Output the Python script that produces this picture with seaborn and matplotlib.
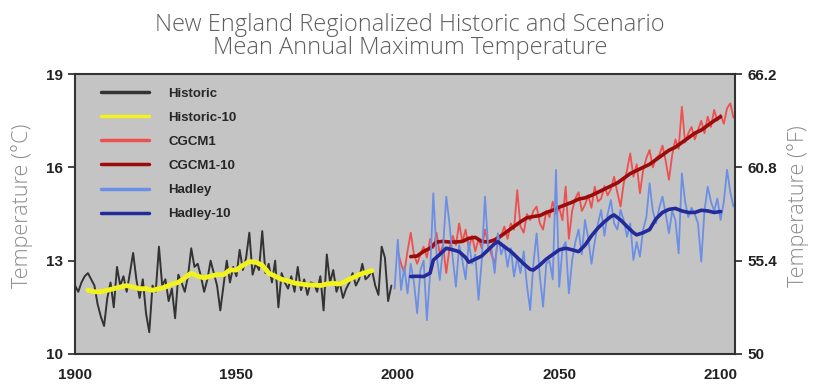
import numpy as np
import pandas as pd
import matplotlib
matplotlib.use("Agg")
import matplotlib.pyplot as plt
import seaborn as sns

# Data (degrees C)
hist_years = list(range(1900, 1999))
hist_temp = [12.2, 12.0, 12.3, 12.5, 12.6, 12.4, 12.2, 11.6, 11.2, 10.9,
             11.8, 12.3, 11.5, 12.8, 12.2, 12.5, 12.0, 12.6, 13.25, 12.4,
             11.8, 12.4, 11.3, 10.7, 12.2, 12.0, 13.45, 12.2, 12.4, 11.7,
             12.1, 11.15, 12.55, 12.3, 12.0, 12.5, 13.4, 12.8, 12.9, 12.5,
             12.0, 12.4, 13.0, 12.6, 12.2, 11.4, 12.2, 13.0, 12.3, 12.8,
             12.5, 13.35, 12.7, 13.1, 13.9, 12.55, 12.9, 12.7, 13.95, 12.6,
             12.9, 12.3, 13.0, 11.5, 12.6, 12.3, 12.1, 12.5, 12.0, 12.8,
             12.05, 12.4, 11.9, 12.3, 12.27, 12.0, 12.5, 11.4, 13.2, 12.3,
             12.7, 12.0, 12.3, 11.8, 12.1, 12.3, 12.6, 12.2, 12.4, 12.9,
             12.4, 12.5, 12.7, 12.2, 11.9, 13.45, 13.1, 11.7, 12.2]

hist10_years = list(range(1904, 1993, 2))
hist10_temp = [12.05, 12.0, 12.0, 12.05, 12.1, 12.15, 12.2, 12.15, 12.1, 12.1,
               12.05, 12.1, 12.15, 12.25, 12.3, 12.45, 12.6, 12.5, 12.45, 12.5,
               12.55, 12.55, 12.7, 12.7, 12.85, 12.97, 12.95, 12.85, 12.6, 12.5,
               12.4, 12.35, 12.28, 12.25, 12.22, 12.22, 12.2, 12.25, 12.27, 12.25,
               12.35, 12.45, 12.55, 12.62, 12.68]

cgcm_years = list(range(2000, 2105))
cgcm_temp = [13.3, 12.9, 12.6, 13.3, 13.9, 13.2, 12.9, 13.2, 13.45, 13.1,
             13.7, 13.4, 13.9, 13.2, 13.5, 12.6, 13.4, 13.8, 13.5, 14.2,
             13.6, 14.0, 13.4, 13.8, 13.3, 13.7, 13.4, 14.0, 13.5, 13.2,
             12.9, 13.6, 13.8, 14.1, 13.7, 14.2, 14.0, 15.27, 14.1, 13.9,
             14.5, 14.3, 14.6, 14.74, 14.2, 14.0, 14.6, 14.4, 14.9, 14.5,
             14.7, 14.3, 15.38, 13.7, 14.6, 15.0, 15.2, 14.6, 14.8, 15.1,
             14.7, 15.38, 14.9, 15.0, 15.4, 15.1, 15.3, 15.7, 15.2, 14.74,
             15.5, 15.9, 16.45, 15.7, 16.1, 15.17, 15.9, 16.3, 16.56, 16.0,
             16.3, 16.4, 16.7, 16.2, 15.6, 16.4, 16.9, 16.6, 17.95, 16.8,
             17.1, 17.3, 16.9, 17.2, 17.5, 17.1, 17.63, 17.3, 17.85, 17.5,
             17.7, 17.4, 17.9, 18.06, 17.6]

cgcm10_years = list(range(2004, 2101, 2))
cgcm10_temp = [13.13, 13.15, 13.3, 13.4, 13.6, 13.62, 13.6, 13.6, 13.62, 13.72,
               13.75, 13.62, 13.6, 13.67, 13.8, 13.95, 14.1, 14.25, 14.38, 14.42,
               14.45, 14.55, 14.62, 14.72, 14.8, 14.88, 14.98, 15.02, 15.1, 15.2,
               15.3, 15.4, 15.5, 15.65, 15.8, 15.9, 16.0, 16.1, 16.25, 16.4,
               16.55, 16.65, 16.8, 16.95, 17.1, 17.2, 17.35, 17.5, 17.63]

hadley_years = list(range(1999, 2105))
hadley_temp = [12.1, 13.67, 12.06, 12.8, 11.95, 12.9, 12.3, 11.31, 12.7, 13.0,
               11.09, 12.6, 15.17, 13.2, 12.38, 13.4, 15.06, 14.2, 13.1, 12.16,
               13.5, 13.0, 12.4, 13.6, 12.9, 13.2, 11.74, 13.0, 15.06, 13.4,
               13.4, 12.6, 13.88, 13.2, 13.5, 12.8, 13.4, 12.49, 13.1, 12.6,
               13.3, 12.2, 11.41, 12.9, 13.88, 12.5, 11.52, 12.9, 13.0, 12.4,
               15.92, 12.16, 13.4, 13.6, 11.95, 13.0, 13.6, 14.0, 13.2, 14.31,
               13.7, 12.9, 13.6, 14.2, 14.63, 13.8, 14.5, 14.95, 14.2, 14.0,
               14.63, 14.3, 13.77, 14.2, 13.02, 13.6, 13.13, 14.0, 14.4, 15.49,
               14.6, 14.2, 14.7, 15.06, 14.5, 13.88, 14.6, 14.3, 13.24, 15.81,
               14.9, 14.4, 14.7, 14.5, 14.2, 12.97, 14.6, 15.38, 14.9, 14.6,
               15.0, 14.31, 14.9, 15.92, 15.2, 14.74]

hadley10_years = [2004, 2006, 2008, 2010, 2011, 2013, 2015, 2017, 2019, 2021,
                  2022, 2024, 2026, 2028, 2030, 2031, 2033, 2035, 2037, 2039,
                  2041, 2042, 2044, 2046, 2048, 2050, 2052, 2054, 2056, 2058,
                  2060, 2062, 2064, 2066, 2067, 2069, 2071, 2073, 2074, 2076,
                  2078, 2080, 2082, 2084, 2086, 2088, 2090, 2092, 2094, 2096,
                  2098, 2100]
hadley10_temp = [12.49, 12.5, 12.49, 12.6, 13.02, 13.2, 13.4, 13.35, 13.29, 13.1,
                 12.95, 13.05, 13.15, 13.35, 13.55, 13.61, 13.45, 13.3, 13.1, 12.9,
                 12.72, 12.7, 12.86, 13.05, 13.2, 13.35, 13.4, 13.35, 13.29, 13.5,
                 13.8, 14.05, 14.25, 14.42, 14.47, 14.31, 14.1, 13.9, 13.83, 13.9,
                 14.0, 14.35, 14.55, 14.65, 14.68, 14.6, 14.55, 14.55, 14.62, 14.6,
                 14.55, 14.58]

c_ticks = [10, 13, 16, 19]
f_ticks = [50, 55.4, 60.8, 66.2]
x_ticks = [1900, 1950, 2000, 2050, 2100]

sns.set_style("white")
plt.rcParams["font.family"] = ["Liberation Sans", "DejaVu Sans"]
thin_font = ["Open Sans", "Lato", "DejaVu Sans"]

fig = plt.figure(figsize=(8.2, 3.92), dpi=100)
ax = fig.add_axes([0.0915, 0.097, 0.805, 0.714])
ax.set_facecolor("#c4c4c4")

series = [
    ("Historic", hist_years, hist_temp, "#333333", 1.4),
    ("Historic-10", hist10_years, hist10_temp, "#f2f21e", 3.5),
    ("CGCM1", cgcm_years, cgcm_temp, "#ee5050", 1.3),
    ("CGCM1-10", cgcm10_years, cgcm10_temp, "#9c0a0a", 2.6),
    ("Hadley", hadley_years, hadley_temp, "#6b8fe6", 1.3),
    ("Hadley-10", hadley10_years, hadley10_temp, "#232a9a", 2.6),
]
for name, yrs, vals, color, lw in series:
    df = pd.DataFrame({"year": yrs, "temp": vals})
    sns.lineplot(data=df, x="year", y="temp", ax=ax, color=color,
                 linewidth=lw, label=name)

ax.set_xlim(1900, 2104.5)
ax.set_ylim(10, 19)
ax.set_xticks(x_ticks)
ax.set_yticks(c_ticks)
ax.set_xlabel("")
ax.set_ylabel("Temperature (°C)", family=thin_font, weight="light",
              color="#8c8c8c", fontsize=15.5)
ax.yaxis.set_label_coords(-0.063, 0.53)
tick_font = ["Liberation Sans Narrow", "Liberation Sans", "DejaVu Sans"]
for lab in ax.get_xticklabels() + ax.get_yticklabels():
    lab.set_family(tick_font)
    lab.set_fontsize(11)
    lab.set_weight("bold")
    lab.set_color("#222222")
ax.tick_params(axis="x", direction="inout", length=8, width=1.2, pad=6)
ax.tick_params(axis="y", direction="out", length=5, width=1.2, pad=4)
for sp in ax.spines.values():
    sp.set_color("#333333")
    sp.set_linewidth(1.5)

ax2 = ax.twinx()
ax2.set_ylim(50, 66.2)
ax2.set_yticks(f_ticks)
ax2.set_yticklabels([str(v) for v in f_ticks])
for lab in ax2.get_yticklabels():
    lab.set_family(tick_font)
    lab.set_fontsize(11)
    lab.set_weight("bold")
    lab.set_color("#222222")
ax2.tick_params(axis="y", direction="out", length=5, width=1.2, pad=4)
ax2.set_ylabel("Temperature (°F)", family=thin_font, weight="light",
               color="#8c8c8c", fontsize=15.5)
ax2.yaxis.set_label_coords(1.078, 0.53)
for sp in ax2.spines.values():
    sp.set_visible(False)

leg = ax.legend(loc="upper left", bbox_to_anchor=(0.032, 0.971), borderaxespad=0,
                frameon=False, handlelength=3.6, handletextpad=1.45,
                labelspacing=0.9,
                prop={"family": "Liberation Sans", "weight": "bold", "size": 9.5})
for h in leg.get_lines():
    h.set_linewidth(2.5)

fig.suptitle("New England Regionalized Historic and Scenario\nMean Annual Maximum Temperature",
             y=0.968, fontsize=17, color="#5e5e5e", family=thin_font,
             weight="light", linespacing=0.98)

fig.savefig("out.png", dpi=100)
